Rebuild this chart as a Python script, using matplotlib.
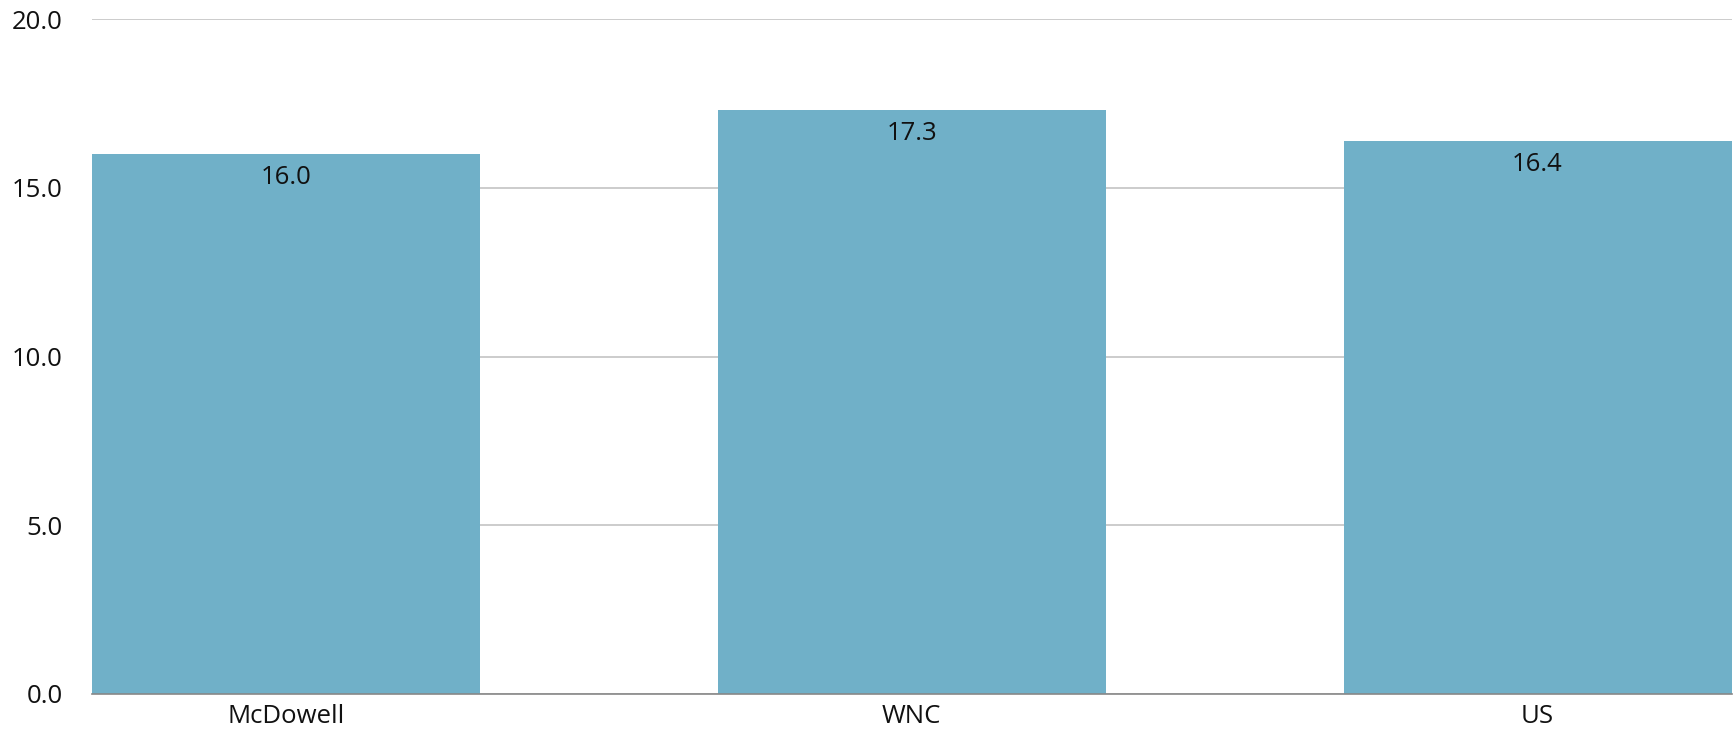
import matplotlib.pyplot as plt

categories = ["McDowell", "WNC", "US"]
values = [16.0, 17.3, 16.4]
y_ticks = [0, 5, 10, 15, 20]

plt.rcParams['font.family'] = ['Open Sans', 'DejaVu Sans']

fig = plt.figure(figsize=(17.35, 7.35), dpi=100)
ax = fig.add_axes([0.053, 0.0558, 0.945, 0.918])

x = list(range(len(categories)))
bars = ax.bar(x, values, width=0.62, color="#70b0c8", zorder=2)

for b, v in zip(bars, values):
    ax.annotate(f"{v:.1f}", (b.get_x() + b.get_width() / 2, v),
                xytext=(0, -17), textcoords="offset points",
                ha="center", va="center", fontsize=18.5, color="#111111")

ax.set_xlim(-0.31, 2.31)
ax.set_ylim(0, 20)
ax.set_yticks(y_ticks)
ax.set_yticklabels([f"{t:.1f}" for t in y_ticks])
ax.set_xticks(x)
ax.set_xticklabels(categories)
ax.tick_params(length=0, labelsize=18.5, colors="#111111")
ax.tick_params(axis="y", pad=21)
ax.tick_params(axis="x", pad=7)

ax.yaxis.grid(True, color="#c8c8c8", linewidth=1.3, zorder=0)
ax.set_axisbelow(True)
for s in ["top", "right", "left"]:
    ax.spines[s].set_visible(False)
ax.spines["bottom"].set_color("#888888")
ax.spines["bottom"].set_linewidth(1.2)

fig.savefig("out.png", dpi=100)
